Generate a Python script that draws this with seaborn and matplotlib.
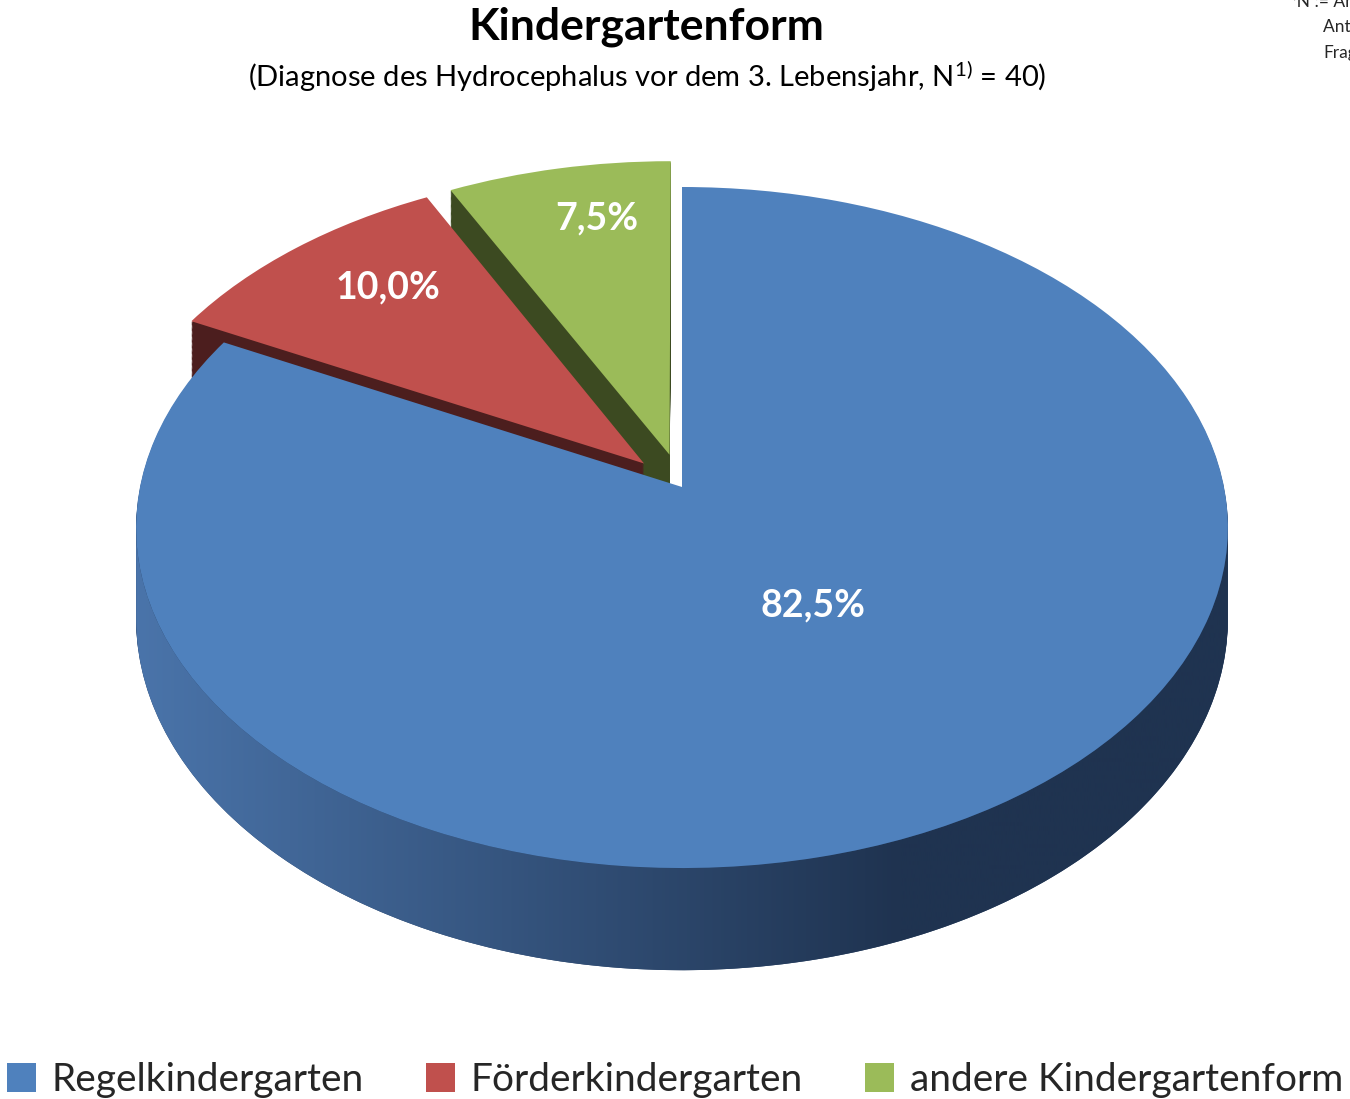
import numpy as np
import matplotlib
matplotlib.use('Agg')
import matplotlib.pyplot as plt
import seaborn as sns
from matplotlib.patches import Polygon, Patch
from matplotlib.colors import LinearSegmentedColormap
from matplotlib.transforms import Transform

# ---- data ----
categories = ['Regelkindergarten', 'Förderkindergarten', 'andere Kindergartenform']
shares = [82.5, 10.0, 7.5]
value_labels = ['82,5%', '10,0%', '7,5%']
explode = [0.0, 0.1, 0.1]

title = 'Kindergartenform'
subtitle = '(Diagnose des Hydrocephalus vor dem 3. Lebensjahr, N$^{\\mathrm{1)}}$ = 40)'
footnote_lines = ['¹⁾N := Anzahl der', 'Antworten der', 'Fragebögen']

# ---- style ----
top_colors = sns.color_palette(['#4F81BD', '#C0504D', '#9BBB59'])
side_colors = sns.color_palette(['#2A4468', '#4C1E1E', '#3C4A21'])
label_radius = [0.41, 0.765, 0.80]
label_angle_frac = [0.51, 0.42, 0.40]

sns.set_theme(style='white')
plt.rcParams['font.family'] = ['Lato', 'DejaVu Sans']
plt.rcParams['mathtext.fontset'] = 'custom'
plt.rcParams['mathtext.rm'] = 'Lato'
plt.rcParams['mathtext.it'] = 'Lato:italic'
plt.rcParams['mathtext.bf'] = 'Lato:bold'

W, H = 1350, 1099
CX, CY = 682, 487      # apex of the pie (pixels from top-left)
RX, KY = 542, 335.7    # horizontal radius, vertical scale
C = 0.119              # perspective strength
DEPTH = 90             # thickness in pixels


class Persp(Transform):
    """Map unit-pie coordinates to pixel coordinates with a tilted, perspective view."""
    input_dims = 2
    output_dims = 2
    is_separable = False
    has_inverse = False

    def __init__(self, z=0.0):
        super().__init__()
        self.z = z

    def transform_non_affine(self, values):
        v = np.asarray(values, dtype=float)
        x, y = v[:, 0], v[:, 1]
        w = 1.0 + C * y
        return np.column_stack([CX + RX * x / w, CY - KY * y / w + self.z / w])


fig = plt.figure(figsize=(W / 100, H / 100), dpi=100)
fig.patch.set_facecolor('white')
ax = fig.add_axes([0, 0, 1, 1])

# side layers (stacked pies)
nlayers = 70
for z in np.linspace(DEPTH, 0, nlayers, endpoint=False):
    ws, _ = ax.pie(shares, explode=explode, startangle=90, counterclock=False,
                   colors=side_colors, wedgeprops=dict(linewidth=0, zorder=1))
    tr = Persp(z) + ax.transData
    for w in ws:
        w.set_transform(tr)

# gradient on the visible front rim of the big slice
a = np.arcsin(C)
t = np.linspace(np.pi + a, 2 * np.pi - a, 400)
arc = np.column_stack([np.cos(t), np.sin(t)])
top_arc = Persp(0).transform(arc)
bot_arc = Persp(DEPTH).transform(arc)[::-1]
rim = Polygon(np.vstack([top_arc, bot_arc]), closed=True,
              facecolor='none', edgecolor='none')
ax.add_patch(rim)
cmap = LinearSegmentedColormap.from_list(
    'rim', [(0.0, '#4A74AA'), (0.70, '#1F3350'), (1.0, '#1F3350')])
grad = np.linspace(0, 1, 512)[None, :]
xl, xr = top_arc[0, 0], top_arc[-1, 0]
im = ax.imshow(grad, extent=(xl, xr, H, 0), cmap=cmap, aspect='auto',
               zorder=1.5, interpolation='bilinear')
im.set_clip_path(rim)

# top face
wedges, _ = ax.pie(shares, explode=explode, startangle=90, counterclock=False,
                   colors=top_colors, wedgeprops=dict(linewidth=0, zorder=2))
top_tr = Persp(0) + ax.transData
for w in wedges:
    w.set_transform(top_tr)

for w, lab, r, f in zip(wedges, value_labels, label_radius, label_angle_frac):
    ang = np.deg2rad(w.theta1 + f * (w.theta2 - w.theta1))
    x0, y0 = w.center
    px, py = Persp(0).transform(np.array([[x0 + r * np.cos(ang), y0 + r * np.sin(ang)]]))[0]
    ax.text(px, py, lab, ha='center', va='center', color='white', fontsize=27,
            fontweight='bold', zorder=3)

ax.set_aspect('auto')
ax.set_xlim(0, W)
ax.set_ylim(H, 0)
ax.axis('off')

# titles
fig.text(646 / W, 1 - 27 / H, title, ha='center', va='center',
         fontsize=32, fontweight='bold', color='black')
fig.text(647 / W, 1 - 76 / H, subtitle, ha='center', va='center',
         fontsize=21, color='black')

# footnote (runs past the right edge, as in the original)
fig.text(1288 / W, 1 - 2 / H, footnote_lines[0], ha='left', va='center', fontsize=12.5)
fig.text(1323 / W, 1 - 27 / H, footnote_lines[1], ha='left', va='center', fontsize=12.5)
fig.text(1323 / W, 1 - 53 / H, footnote_lines[2], ha='left', va='center', fontsize=12.5)

# legend
handles = [Patch(facecolor=c, edgecolor='none', label=l)
           for c, l in zip(top_colors, categories)]
fig.legend(handles=handles, loc='lower center', bbox_to_anchor=(0.5, -0.024),
           ncol=3, frameon=False, fontsize=28, handlelength=0.75,
           handleheight=0.75, handletextpad=0.4, columnspacing=1.6,
           borderaxespad=0.3)

fig.savefig('out.png', dpi=100, facecolor='white')
